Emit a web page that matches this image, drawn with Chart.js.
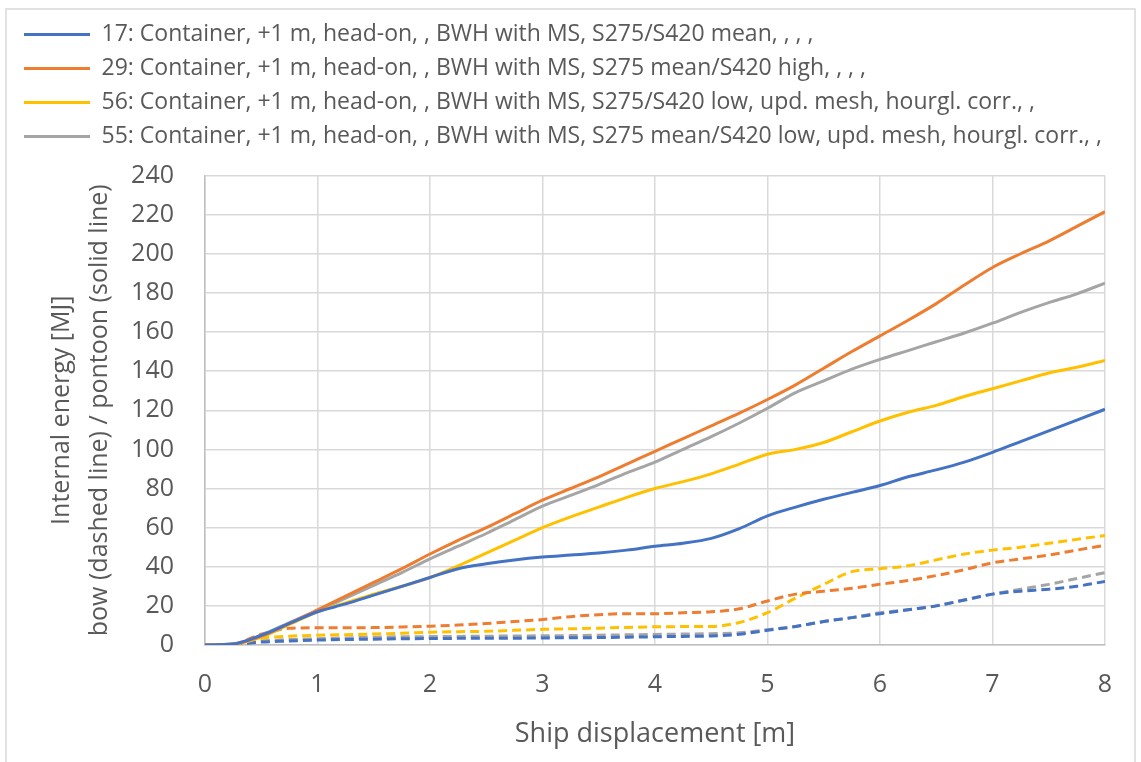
<!DOCTYPE html>
<html>
<head>
<meta charset="utf-8">
<script src="https://cdn.jsdelivr.net/npm/chart.js@4.4.1/dist/chart.umd.min.js"></script>
<style>
  html, body { margin: 0; padding: 0; background: #ffffff; }
  #wrap { width: 1141px; height: 762px; }
</style>
</head>
<body>
<div id="wrap"><canvas id="chart" width="1141" height="762"></canvas></div>
<script>
// Ship displacement [m] sample points shared by every series
const displacement = [0, 0.25, 0.5, 0.75, 1, 1.25, 1.5, 1.75, 2, 2.25, 2.5, 2.75, 3, 3.25, 3.5, 3.75,
  4, 4.25, 4.5, 4.75, 5, 5.25, 5.5, 5.75, 6, 6.25, 6.5, 6.75, 7, 7.25, 7.5, 7.75, 8];

// Internal energy of the pontoon [MJ] (solid lines)
const pontoon17 = [0, 0.5, 5, 11, 17, 21, 25.5, 30, 34.5, 39, 41.5, 43.5, 45, 46, 47, 48.5,
  50.5, 52, 54.5, 59.5, 66, 70.5, 74.5, 78, 81.5, 86, 89.5, 93.5, 98.5, 104, 109.5, 115, 120.5];
const pontoon29 = [0, 0.5, 4.5, 11, 18, 25, 32, 39, 46.5, 53.5, 60, 67, 74, 80, 86, 92.5,
  99, 105.5, 112, 118.5, 125.5, 133, 141.5, 150, 158, 166, 174.5, 184, 193, 200, 206.5, 214, 221.5];
const pontoon56 = [0, 0.3, 4, 10.5, 17, 21.5, 26, 30, 34.5, 40.5, 47, 53.5, 60, 65.5, 70.5, 75.5,
  80, 83.5, 87.5, 92.5, 97.5, 100, 103.5, 109, 114.5, 119, 122.5, 127, 131, 135, 139, 142, 145.5];
const pontoon55 = [0, 0.5, 5, 11.5, 17.5, 24, 30.5, 37, 44, 50.5, 57, 64, 71, 76.5, 82, 88,
  93.5, 100, 106.5, 113.5, 121, 129, 135, 141, 146, 150.5, 155, 159.5, 164.5, 170, 175, 179.5, 185];

// Internal energy of the bow [MJ] (dashed lines)
const bow17 = [0, 0.3, 1.5, 2, 2.5, 2.8, 3, 3.2, 3.3, 3.4, 3.5, 3.5, 3.6, 3.7, 3.8, 4,
  4.2, 4.4, 4.6, 5.5, 7.5, 9.5, 12, 14, 16, 18, 20, 23, 26, 27.5, 28.5, 30, 32.5];
const bow29 = [0, 0.5, 5.5, 8.5, 8.8, 8.8, 8.9, 9.2, 9.6, 10.2, 11, 12, 13, 14.5, 15.5, 16,
  16, 16.5, 17, 18.5, 22.5, 26, 27.5, 29, 31, 33, 35.5, 38.5, 42, 44, 46, 48.5, 51];
const bow56 = [0, 0.3, 3.5, 4.5, 5, 5.3, 5.6, 6, 6.5, 6.8, 7, 7.5, 8, 8.3, 8.6, 9,
  9.3, 9.4, 9.5, 11.5, 16.5, 24, 31, 37.5, 39, 40.5, 43.5, 46.5, 48.5, 50, 52, 54, 56];
const bow55 = [0, 0.3, 2, 2.8, 3.2, 3.6, 4, 4.2, 4.3, 4.4, 4.5, 4.6, 4.7, 4.8, 5, 5.2,
  5.4, 5.6, 5.8, 6.2, 7.8, 9.5, 12, 14, 16.5, 18, 20, 23, 26, 28.5, 31, 34, 37];

const runNames = [
  '17: Container, +1 m, head-on, , BWH with MS, S275/S420 mean, , , ,',
  '29: Container, +1 m, head-on, , BWH with MS, S275 mean/S420 high, , , ,',
  '56: Container, +1 m, head-on, , BWH with MS, S275/S420 low, upd. mesh, hourgl. corr., ,',
  '55: Container, +1 m, head-on, , BWH with MS, S275 mean/S420 low, upd. mesh, hourgl. corr., ,'
];

const runColors = ['#4472C4', '#ED7D31', '#FFC000', '#A5A5A5'];
const pontoonSeries = [pontoon17, pontoon29, pontoon56, pontoon55];
const bowSeries = [bow17, bow29, bow56, bow55];

const toPoints = (ys) => ys.map((y, i) => ({ x: displacement[i], y: y }));

const datasets = [];
pontoonSeries.forEach((ys, i) => {
  datasets.push({
    label: runNames[i],
    data: toPoints(ys),
    borderColor: runColors[i],
    backgroundColor: runColors[i],
    borderWidth: 3,
    pointRadius: 0,
    cubicInterpolationMode: 'monotone',
    fill: false
  });
});
bowSeries.forEach((ys, i) => {
  datasets.push({
    label: runNames[i] + ' (bow)',
    data: toPoints(ys),
    borderColor: runColors[i],
    backgroundColor: runColors[i],
    borderWidth: 3,
    borderDash: [9, 5],
    pointRadius: 0,
    cubicInterpolationMode: 'monotone',
    fill: false
  });
});

// light frame around the whole chart
const chartFrame = {
  id: 'chartFrame',
  beforeDraw(chart) {
    const c = chart.ctx;
    c.save();
    c.fillStyle = '#ffffff';
    c.fillRect(0, 0, chart.width, chart.height);
    c.strokeStyle = '#d9d9d9';
    c.lineWidth = 1.5;
    c.strokeRect(6, 9, chart.width - 12, chart.height);
    c.restore();
  }
};

Chart.defaults.font.family = "'Open Sans', sans-serif";
Chart.defaults.color = '#595959';

new Chart(document.getElementById('chart'), {
  type: 'line',
  data: { datasets: datasets },
  plugins: [chartFrame],
  options: {
    responsive: false,
    animation: false,
    devicePixelRatio: 1,
    layout: { padding: { left: 13, right: 36, top: 12, bottom: 10 } },
    plugins: {
      legend: {
        position: 'top',
        align: 'start',
        labels: {
          usePointStyle: true,
          pointStyle: 'line',
          pointStyleWidth: 66,
          padding: 11,
          color: '#595959',
          font: { size: 23 },
          filter: (item) => item.datasetIndex < 4
        }
      },
      // spacing between the legend block and the plot area
      title: {
        display: true,
        text: '',
        weight: 500,
        font: { size: 1 },
        padding: { top: 0, bottom: 16.3 }
      },
      tooltip: { enabled: false }
    },
    scales: {
      x: {
        type: 'linear',
        min: 0,
        max: 8,
        ticks: { stepSize: 1, padding: 25, color: '#595959', font: { size: 25 } },
        grid: { color: '#d9d9d9', lineWidth: 1.5, drawTicks: false },
        border: { color: '#bfbfbf', width: 1.5 },
        title: {
          display: true,
          text: 'Ship displacement [m]',
          color: '#595959',
          font: { size: 27 },
          padding: { top: 0, bottom: 1 }
        },
        afterFit: (scale) => { scale.height = 107; }
      },
      y: {
        type: 'linear',
        min: 0,
        max: 240,
        ticks: { stepSize: 20, padding: 31, color: '#595959', font: { size: 25 } },
        grid: { color: '#d9d9d9', lineWidth: 1.5, drawTicks: false },
        border: { color: '#bfbfbf', width: 1.5 },
        title: {
          display: true,
          text: ['Internal energy [MJ]', 'bow (dashed line) / pontoon (solid line)'],
          color: '#595959',
          font: { size: 25, lineHeight: 1.52 },
          padding: { top: 30, bottom: 0 }
        },
        afterFit: (scale) => { scale.width = 192; }
      }
    }
  }
});
</script>
</body>
</html>
